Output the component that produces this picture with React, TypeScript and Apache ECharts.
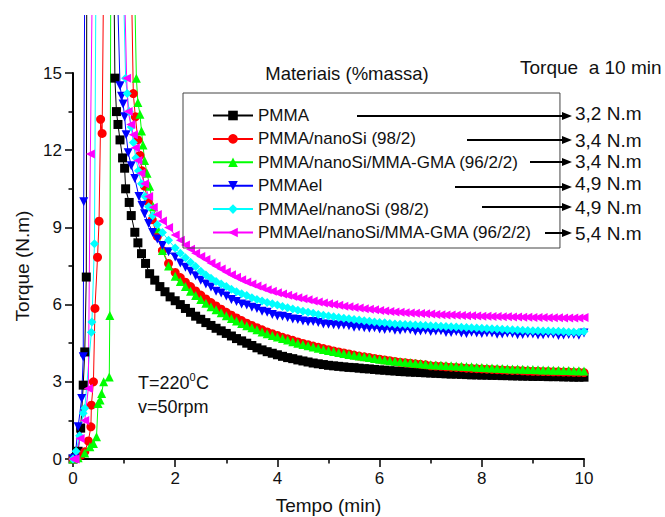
import React, { useEffect, useRef } from "react";
import * as echarts from "echarts";

const FONT = "Liberation Sans, Arial, sans-serif";

const seriesNames = [
  "PMMA",
  "PMMA/nanoSi (98/2)",
  "PMMA/nanoSi/MMA-GMA (96/2/2)",
  "PMMAel",
  "PMMAel/nanoSi (98/2)",
  "PMMAel/nanoSi/MMA-GMA (96/2/2)",
];
const torqueAt10 = ["3,2 N.m", "3,4 N.m", "3,4 N.m", "4,9 N.m", "4,9 N.m", "5,4 N.m"];

const tailTime = [
  2.0, 2.1, 2.2, 2.3, 2.4, 2.5, 2.6, 2.7, 2.8, 2.9,
  3.0, 3.1, 3.2, 3.3, 3.4, 3.5, 3.6, 3.7, 3.8, 3.9,
  4.0, 4.1, 4.2, 4.3, 4.4, 4.5, 4.6, 4.7, 4.8, 4.9,
  5.0, 5.1, 5.2, 5.3, 5.4, 5.5, 5.6, 5.7, 5.8, 5.9,
  6.0, 6.1, 6.2, 6.3, 6.4, 6.5, 6.6, 6.7, 6.8, 6.9,
  7.0, 7.1, 7.2, 7.3, 7.4, 7.5, 7.6, 7.7, 7.8, 7.9,
  8.0, 8.1, 8.2, 8.3, 8.4, 8.5, 8.6, 8.7, 8.8, 8.9,
  9.0, 9.1, 9.2, 9.3, 9.4, 9.5, 9.6, 9.7, 9.8, 9.9,
  10.0,
];

// PMMA (black)
const pmmaHeadTime = [0, 0.05, 0.1, 0.15, 0.2, 0.23, 0.26, 0.27, 0.8, 0.82, 0.85, 0.88, 0.92, 0.97, 1.01, 1.03, 1.1, 1.14, 1.21, 1.27, 1.34, 1.42, 1.5, 1.6, 1.7, 1.8, 1.9];
const pmmaHeadTorque = [0, 0.05, 0.3, 1.2, 2.87, 4.16, 7.07, 19, 19, 14.8, 13.5, 13.0, 12.4, 11.7, 11.3, 10.5, 9.97, 9.46, 8.81, 8.4, 7.98, 7.6, 7.2, 6.95, 6.7, 6.5, 6.3];
const pmmaTail = [
  6.15, 6.0, 5.85, 5.7, 5.55, 5.43, 5.3, 5.19, 5.08, 4.98,
  4.88, 4.78, 4.68, 4.59, 4.5, 4.41, 4.32, 4.24, 4.17, 4.11,
  4.05, 3.99, 3.94, 3.9, 3.85, 3.81, 3.77, 3.73, 3.7, 3.67,
  3.64, 3.62, 3.6, 3.58, 3.56, 3.55, 3.53, 3.51, 3.5, 3.48,
  3.46, 3.45, 3.43, 3.42, 3.4, 3.39, 3.38, 3.37, 3.36, 3.35,
  3.34, 3.33, 3.32, 3.31, 3.3, 3.3, 3.29, 3.28, 3.27, 3.27,
  3.26, 3.26, 3.25, 3.25, 3.24, 3.24, 3.23, 3.23, 3.22, 3.22,
  3.21, 3.21, 3.21, 3.2, 3.2, 3.2, 3.19, 3.19, 3.18, 3.18,
  3.18,
];

// PMMA/nanoSi (red)
const redHeadTime = [0, 0.08, 0.16, 0.23, 0.3, 0.35, 0.36, 0.4, 0.43, 0.48, 0.51, 0.54, 0.57, 0.6, 1.14, 1.18, 1.22, 1.27, 1.31, 1.35, 1.4, 1.47, 1.55, 1.65, 1.75, 1.87];
const redHeadTorque = [0, 0.05, 0.15, 0.28, 0.7, 1.25, 2.09, 3.0, 5.85, 7.84, 9.24, 13.2, 12.65, 19, 19, 14.2, 13.3, 12.4, 11.8, 11.2, 10.6, 10.0, 9.3, 8.65, 8.1, 7.6];
const redTail = [
  7.25, 7.05, 6.87, 6.7, 6.53, 6.37, 6.22, 6.08, 5.95, 5.82,
  5.7, 5.59, 5.48, 5.38, 5.28, 5.19, 5.1, 5.02, 4.94, 4.87,
  4.8, 4.73, 4.67, 4.61, 4.55, 4.49, 4.44, 4.39, 4.34, 4.29,
  4.25, 4.2, 4.16, 4.12, 4.08, 4.04, 4.0, 3.97, 3.94, 3.91,
  3.88, 3.85, 3.82, 3.79, 3.76, 3.74, 3.72, 3.7, 3.68, 3.66,
  3.62, 3.61, 3.6, 3.58, 3.57, 3.56, 3.55, 3.53, 3.52, 3.51,
  3.5, 3.49, 3.48, 3.47, 3.46, 3.45, 3.44, 3.44, 3.43, 3.42,
  3.41, 3.41, 3.4, 3.4, 3.39, 3.39, 3.38, 3.38, 3.37, 3.37,
  3.36,
];

// PMMA/nanoSi/MMA-GMA (green)
const greenHeadTime = [0, 0.1, 0.23, 0.33, 0.4, 0.46, 0.49, 0.53, 0.56, 0.6, 0.71, 0.72, 0.74, 1.2, 1.24, 1.27, 1.31, 1.34, 1.37, 1.4, 1.45, 1.5, 1.57, 1.65, 1.75, 1.87];
const greenHeadTorque = [0, 0.05, 0.23, 0.48, 0.6, 0.86, 2.16, 2.29, 2.55, 3.0, 3.19, 5.58, 19, 19, 14.8, 13.85, 13.4, 12.75, 12.2, 11.6, 11.1, 10.6, 9.8, 8.95, 8.1, 7.5];
const greenTail = [
  7.1, 6.9, 6.7, 6.52, 6.35, 6.2, 6.05, 5.92, 5.8, 5.68,
  5.57, 5.46, 5.36, 5.27, 5.18, 5.1, 5.02, 4.94, 4.87, 4.8,
  4.74, 4.68, 4.62, 4.56, 4.5, 4.45, 4.4, 4.35, 4.3, 4.26,
  4.22, 4.18, 4.14, 4.1, 4.06, 4.03, 4.0, 3.97, 3.94, 3.91,
  3.88, 3.85, 3.82, 3.8, 3.78, 3.76, 3.74, 3.72, 3.7, 3.68,
  3.66, 3.65, 3.64, 3.63, 3.62, 3.61, 3.6, 3.59, 3.58, 3.57,
  3.56, 3.55, 3.54, 3.53, 3.52, 3.51, 3.5, 3.5, 3.49, 3.48,
  3.48, 3.47, 3.46, 3.46, 3.45, 3.45, 3.44, 3.44, 3.43, 3.43,
  3.42,
];

// PMMAel (blue)
const blueHeadTime = [0, 0.04, 0.1, 0.17, 0.2, 0.21, 0.23, 0.86, 0.92, 0.95, 0.98, 1.01, 1.04, 1.08, 1.14, 1.21, 1.29, 1.35, 1.4, 1.48, 1.56, 1.65, 1.75, 1.87];
const blueHeadTorque = [0, 0.04, 1.25, 2.35, 3.97, 10.0, 19, 19, 14.5, 14.1, 13.8, 13.3, 12.6, 11.9, 11.4, 10.9, 10.2, 9.85, 9.53, 9.15, 8.8, 8.55, 8.3, 8.05];
const blueTail = [
  7.85, 7.62, 7.45, 7.3, 7.12, 6.95, 6.8, 6.68, 6.52, 6.45,
  6.33, 6.2, 6.12, 6.02, 5.98, 5.9, 5.85, 5.74, 5.7, 5.62,
  5.56, 5.55, 5.5, 5.44, 5.42, 5.36, 5.33, 5.34, 5.3, 5.25,
  5.24, 5.22, 5.2, 5.21, 5.18, 5.12, 5.14, 5.1, 5.08, 5.1,
  5.05, 5.03, 5.06, 5.0, 5.0, 5.04, 5.02, 4.96, 4.97, 5.0,
  4.95, 4.97, 4.98, 4.92, 4.92, 4.95, 4.9, 4.88, 4.93, 4.9,
  4.88, 4.91, 4.9, 4.85, 4.86, 4.89, 4.88, 4.83, 4.84, 4.87,
  4.86, 4.82, 4.83, 4.86, 4.85, 4.8, 4.82, 4.84, 4.84, 4.81,
  4.9,
];

// PMMAel/nanoSi (cyan)
const cyanHeadTime = [0, 0.06, 0.13, 0.2, 0.23, 0.36, 0.37, 0.42, 0.45, 0.98, 1.03, 1.06, 1.1, 1.14, 1.18, 1.23, 1.28, 1.34, 1.41, 1.48, 1.56, 1.65, 1.75, 1.87];
const cyanHeadTorque = [0, 0.3, 0.9, 1.78, 1.97, 4.93, 5.32, 8.36, 19, 19, 14.8, 14.2, 13.5, 12.9, 12.3, 11.7, 11.2, 10.7, 10.2, 9.8, 9.45, 9.1, 8.8, 8.5];
const cyanTail = [
  8.2, 8.0, 7.82, 7.65, 7.48, 7.3, 7.15, 7.02, 6.9, 6.8,
  6.7, 6.6, 6.5, 6.42, 6.35, 6.27, 6.2, 6.14, 6.08, 6.03,
  5.98, 5.93, 5.88, 5.83, 5.78, 5.74, 5.7, 5.66, 5.62, 5.59,
  5.56, 5.53, 5.5, 5.47, 5.45, 5.42, 5.4, 5.37, 5.35, 5.32,
  5.3, 5.29, 5.27, 5.25, 5.24, 5.23, 5.22, 5.21, 5.2, 5.19,
  5.18, 5.17, 5.16, 5.15, 5.14, 5.13, 5.12, 5.11, 5.1, 5.09,
  5.08, 5.07, 5.06, 5.05, 5.04, 5.03, 5.02, 5.01, 5.0, 4.99,
  4.98, 4.98, 4.97, 4.97, 4.96, 4.96, 4.95, 4.94, 4.94, 4.93,
  4.95,
];

// PMMAel/nanoSi/MMA-GMA (magenta)
const magentaHeadTime = [0, 0.04, 0.14, 0.23, 0.3, 0.34, 0.38, 1.0, 1.05, 1.08, 1.13, 1.18, 1.22, 1.27, 1.33, 1.4, 1.48, 1.57, 1.65, 1.75, 1.87];
const magentaHeadTorque = [0, 0, 0.8, 1.5, 2.74, 11.85, 19, 19, 14.8, 13.5, 13.0, 12.6, 12.1, 11.6, 11.1, 10.7, 10.2, 9.78, 9.5, 9.25, 9.0];
const magentaTail = [
  8.7, 8.5, 8.32, 8.15, 8.0, 7.87, 7.75, 7.62, 7.5, 7.38,
  7.27, 7.16, 7.06, 6.97, 6.88, 6.8, 6.72, 6.65, 6.58, 6.52,
  6.46, 6.41, 6.36, 6.31, 6.27, 6.23, 6.19, 6.14, 6.1, 6.06,
  6.03, 6.0, 5.97, 5.94, 5.92, 5.89, 5.87, 5.84, 5.82, 5.8,
  5.77, 5.75, 5.73, 5.71, 5.7, 5.68, 5.67, 5.66, 5.65, 5.64,
  5.63, 5.62, 5.61, 5.6, 5.6, 5.59, 5.58, 5.57, 5.57, 5.56,
  5.55, 5.55, 5.54, 5.54, 5.53, 5.53, 5.52, 5.52, 5.51, 5.51,
  5.5, 5.5, 5.5, 5.49, 5.49, 5.49, 5.48, 5.48, 5.48, 5.48,
  5.5,
];

const xTicks = { min: 0, max: 10, interval: 2 };
const yTicks = { min: 0, max: 15, interval: 3 };

function zip(ts: number[], vs: number[]) {
  return ts.map((t, i) => [t, vs[i]]);
}

const seriesDefs = [
  { color: "#000000", symbol: "rect", rotate: 0, head: zip(pmmaHeadTime, pmmaHeadTorque), tail: zip(tailTime, pmmaTail) },
  { color: "#ff0000", symbol: "circle", rotate: 0, head: zip(redHeadTime, redHeadTorque), tail: zip(tailTime, redTail) },
  { color: "#00ff00", symbol: "triangle", rotate: 0, head: zip(greenHeadTime, greenHeadTorque), tail: zip(tailTime, greenTail) },
  { color: "#0000ff", symbol: "triangle", rotate: 180, head: zip(blueHeadTime, blueHeadTorque), tail: zip(tailTime, blueTail) },
  { color: "#00ffff", symbol: "diamond", rotate: 0, head: zip(cyanHeadTime, cyanHeadTorque), tail: zip(tailTime, cyanTail) },
  { color: "#ff00ff", symbol: "triangle", rotate: 90, head: zip(magentaHeadTime, magentaHeadTorque), tail: zip(tailTime, magentaTail) },
];

const arrowStartX = [357, 467, 530, 455, 482, 545];
const arrowY = [116, 140, 162, 187, 207, 233];
const valueY = [113, 140, 161, 183, 207, 233];

function txt(x: number, y: number, text: string, fontSize: number, align = "left") {
  return {
    type: "text", x, y, z: 10,
    style: { text, fontSize, fontFamily: FONT, fill: "#111", align, verticalAlign: "middle", textAlign: align, textVerticalAlign: "middle" },
  };
}

export default function App() {
  const ref = useRef<HTMLDivElement>(null);
  useEffect(() => {
    const chart = echarts.init(ref.current!, null, { renderer: "svg" });
    const graphics: any[] = [
      { type: "rect", shape: { x: 0, y: 0, width: 665, height: 15 }, style: { fill: "#ffffff" }, z: 100 },
      txt(347, 73, "Materiais (%massa)", 18.5, "center"),
      txt(520, 67, "Torque  a 10 min", 19),
      txt(138, 383, "T=220", 18),
      txt(189.5, 377, "0", 11),
      txt(196, 383, "C", 18),
      txt(138, 407, "v=50rpm", 18),
    ];
    torqueAt10.forEach((label, i) => {
      graphics.push(txt(575, valueY[i], label, 19));
      graphics.push({
        type: "line", z: 10,
        shape: { x1: arrowStartX[i], y1: arrowY[i], x2: 564, y2: arrowY[i] },
        style: { stroke: "#000", lineWidth: 2 },
      });
      graphics.push({
        type: "polygon", z: 10,
        shape: { points: [[562, arrowY[i] - 4], [572, arrowY[i]], [562, arrowY[i] + 4]] },
        style: { fill: "#000" },
      });
    });

    const option: any = {
      animation: false,
      backgroundColor: "#ffffff",
      textStyle: { fontFamily: FONT },
      grid: { left: 73, right: 81, top: 73, bottom: 58, containLabel: false, outerBoundsMode: "none" },
      legend: {
        orient: "vertical",
        left: 183,
        top: 93,
        padding: [14, 28, 7, 29],
        borderColor: "#444",
        borderWidth: 1,
        itemWidth: 40,
        itemHeight: 12,
        itemGap: 6.4,
        textStyle: { fontSize: 17, fontFamily: FONT, color: "#111", lineHeight: 16 },
        data: seriesNames,
      },
      xAxis: {
        type: "value",
        min: xTicks.min,
        max: xTicks.max,
        interval: xTicks.interval,
        name: "Tempo (min)",
        nameLocation: "middle",
        nameGap: 37,
        nameTextStyle: { fontSize: 19, fontFamily: FONT, color: "#111" },
        axisLine: { show: true, onZero: false, lineStyle: { color: "#000", width: 2 } },
        axisTick: { show: true, inside: false, length: 8, lineStyle: { color: "#000", width: 1.5 } },
        minorTick: { show: true, splitNumber: 2, length: 4.5, lineStyle: { color: "#000", width: 1.5 } },
        axisLabel: { fontSize: 17, fontFamily: FONT, color: "#111", margin: 11 },
        splitLine: { show: false },
      },
      yAxis: {
        type: "value",
        min: yTicks.min,
        max: yTicks.max,
        interval: yTicks.interval,
        name: "Torque (N.m)",
        nameLocation: "middle",
        nameGap: 40,
        nameTextStyle: { fontSize: 19, fontFamily: FONT, color: "#111" },
        axisLine: { show: true, onZero: false, lineStyle: { color: "#000", width: 2 } },
        axisTick: { show: true, inside: false, length: 8, lineStyle: { color: "#000", width: 1.5 } },
        minorTick: { show: true, splitNumber: 2, length: 4.5, lineStyle: { color: "#000", width: 1.5 } },
        axisLabel: { fontSize: 17, fontFamily: FONT, color: "#111", margin: 11 },
        splitLine: { show: false },
      },
      graphic: graphics,
      series: seriesDefs.map((d, i) => ({
        name: seriesNames[i],
        type: "line",
        data: [...d.head, ...d.tail],
        clip: false,
        symbol: d.symbol,
        symbolRotate: d.rotate,
        symbolSize: 9,
        showSymbol: true,
        itemStyle: { color: d.color },
        lineStyle: { color: d.color, width: 1 },
        emphasis: { disabled: true },
      })),
    };
    chart.setOption(option);
    return () => chart.dispose();
  }, []);
  return <div ref={ref} style={{ position: "absolute", left: 0, top: 0, width: 665, height: 517 }} />;
}
